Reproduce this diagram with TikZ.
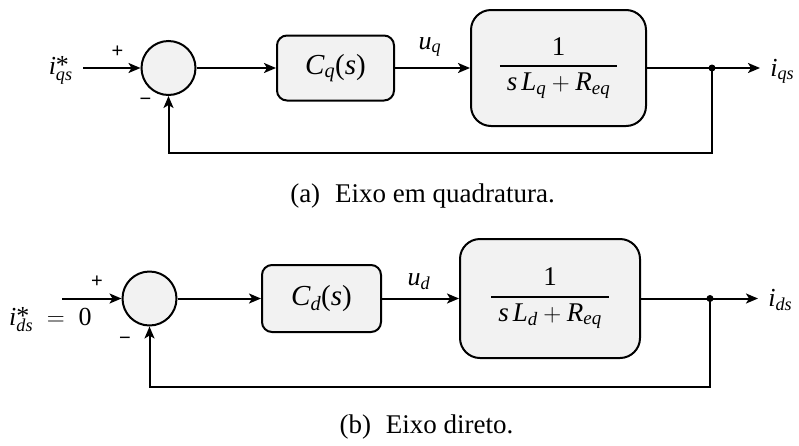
\documentclass[tikz,border=0pt]{standalone}
\usepackage{amsmath}
\usepackage{fontspec}
\setmainfont{Liberation Serif}
\setsansfont{Liberation Sans}
\usetikzlibrary{arrows.meta}
\newcommand{\mi}[1]{\text{\itshape #1}}
\newcommand{\tf}[1]{\genfrac{}{}{2pt}{0}{\text{1}}{\;#1\;}}
\newcommand{\istar}[1]{\mi{i}^{\smash{\raisebox{-0.4em}{*}}}_{\mi{#1}}}
\begin{document}
\begin{tikzpicture}[x=1pt,y=-1pt,
  line width=2pt,
  sumnode/.style={circle,draw,fill=gray!10,minimum size=54pt,inner sep=0pt},
  ctrlbox/.style={draw,fill=gray!10,rounded corners=10pt,inner sep=0pt,font=\fontsize{29}{32}\selectfont},
  plantbox/.style={draw,fill=gray!10,rounded corners=20pt,inner sep=0pt,font=\fontsize{27}{30}\selectfont},
  sig/.style={-{Stealth[length=12pt,width=10pt,inset=3pt]}},
  mathlbl/.style={font=\fontsize{26}{29}\selectfont},
  signlbl/.style={font=\sffamily\fontsize{20}{22}\selectfont},
  caplbl/.style={font=\fontsize{27}{30}\selectfont},
  dotnode/.style={circle,fill,inner sep=0pt,minimum size=7pt}]
\useasboundingbox (0,0) rectangle (799,445);

% ---------- (a) quadrature axis ----------
\node[sumnode] (s1) at (168.5,68) {};
\node[ctrlbox, minimum width=117pt, minimum height=65pt] (c1) at (335.5,68)
  {$\mi{C}_{\mi{q}}\text{(}\mi{s}\text{)}$};
\node[plantbox, minimum width=175pt, minimum height=116pt] (p1) at (558.5,68)
  {$\tf{\mi{s}\,\mi{L}_{\mi{q}}+\mi{R}_{\mi{eq}}}$};
\node[dotnode] (j1) at (712,68) {};
\coordinate (in1) at (83,68);
\coordinate (out1) at (760,68);
\coordinate (fb1) at (712,153);
\node[mathlbl, anchor=base east] (lin1) at (77,74) {$\istar{qs}$};
\node[mathlbl, anchor=base west] (lout1) at (766,76) {$\mi{i}_{\mi{qs}}$};
\node[mathlbl] (lu1) at (430,47) {$\mi{u}_{\mi{q}}$};
\node[signlbl] (plus1) at (117.5,52) {+};
\node[signlbl] (minus1) at (145.5,102) {−};

\draw[sig] (in1) -- (s1.west);
\draw[sig] (s1.east) -- (c1.west);
\draw[sig] (c1.east) -- (p1.west);
\draw (p1.east) -- (j1.center);
\draw[sig] (j1.center) -- (out1);
\draw[sig] (j1.center) -- (fb1) -| (s1.south);

\node[caplbl, anchor=base] (cap1) at (422.5,202) {(a)\hspace{0.55em}Eixo em quadratura.};

% ---------- (b) direct axis ----------
\node[sumnode] (s2) at (149.5,298.5) {};
\node[ctrlbox, minimum width=119pt, minimum height=67pt] (c2) at (321.5,298.5)
  {$\mi{C}_{\mi{d}}\text{(}\mi{s}\text{)}$};
\node[plantbox, minimum width=180pt, minimum height=119pt] (p2) at (550,298.5)
  {$\tf{\mi{s}\,\mi{L}_{\mi{d}}+\mi{R}_{\mi{eq}}}$};
\node[dotnode] (j2) at (710,298.5) {};
\coordinate (in2) at (62,298.5);
\coordinate (out2) at (758,298.5);
\coordinate (fb2) at (710,387);
\node[mathlbl, anchor=base east] (lin2) at (96,325) {$\istar{ds}\;=\;\text{0}$};
\node[mathlbl, anchor=base west] (lout2) at (764,306) {$\mi{i}_{\mi{ds}}$};
\node[mathlbl] (lu2) at (419,282) {$\mi{u}_{\mi{d}}$};
\node[signlbl] (plus2) at (97,282) {+};
\node[signlbl] (minus2) at (125,341) {−};

\draw[sig] (in2) -- (s2.west);
\draw[sig] (s2.east) -- (c2.west);
\draw[sig] (c2.east) -- (p2.west);
\draw (p2.east) -- (j2.center);
\draw[sig] (j2.center) -- (out2);
\draw[sig] (j2.center) -- (fb2) -| (s2.south);

\node[caplbl, anchor=base] (cap2) at (426.5,433) {(b)\hspace{0.55em}Eixo direto.};
\end{tikzpicture}
\end{document}
